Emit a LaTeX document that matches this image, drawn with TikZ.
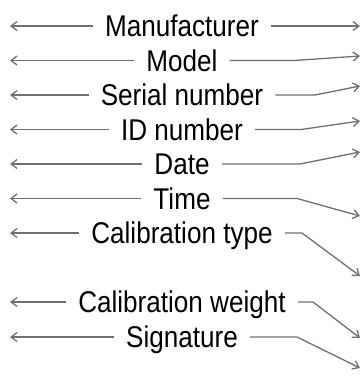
\documentclass[tikz,border=0pt]{standalone}
\usepackage{fontspec}
\newfontfamily\labelfont[FakeStretch=0.87]{Liberation Sans}
\usetikzlibrary{arrows.meta}
\definecolor{connGray}{RGB}{112,112,112}
\tikzset{
  lbl/.style={font=\labelfont\fontsize{30}{30}\selectfont, text height=21.5pt,
              text depth=0pt, inner ysep=0pt, inner xsep=12pt},
  conn/.style={draw=connGray, line width=1.3pt,
               -{Straight Barb[length=6pt,width=9pt]}},
}

\begin{document}
\begin{tikzpicture}[x=1pt,y=-1pt]
  \useasboundingbox (0,0) rectangle (362,376);
  % labels
  \node[lbl] (mfr) at (182,26) {Manufacturer};
  \node[lbl] (model) at (182,60.5) {Model};
  \node[lbl] (serial) at (182,95) {Serial number};
  \node[lbl] (idno) at (182,129.5) {ID number};
  \node[lbl] (date) at (182,164) {Date};
  \node[lbl] (time) at (182,198.5) {Time};
  \node[lbl] (caltype) at (182,233) {Calibration type};
  \node[lbl] (calweight) at (182,302) {Calibration weight};
  \node[lbl] (sig) at (182,337) {Signature};
  % left arrows
  \coordinate (lend) at (10,0);
  \foreach \n in {mfr,model,serial,idno,date,time,caltype,calweight,sig}
    \draw[conn] (\n.west) -- (\n.west -| lend);
  % right arrows (bend, then tip)
  \coordinate (r1) at (360,26);
  \coordinate (b2) at (294,60.5);   \coordinate (r2) at (360,56);
  \coordinate (b3) at (315,95);     \coordinate (r3) at (360,86);
  \coordinate (b4) at (301,129.5);  \coordinate (r4) at (360,121);
  \coordinate (b5) at (300,164);    \coordinate (r5) at (360,152);
  \coordinate (b6) at (297,198.5);  \coordinate (r6) at (360,216);
  \coordinate (b7) at (302,233);    \coordinate (r7) at (360,276);
  \coordinate (b8) at (313,302);    \coordinate (r8) at (360,338);
  \coordinate (b9) at (297,337);    \coordinate (r9) at (360,368);
  \draw[conn] (mfr.east) -- (r1);
  \draw[conn] (model.east) -- (b2) -- (r2);
  \draw[conn] (serial.east) -- (b3) -- (r3);
  \draw[conn] (idno.east) -- (b4) -- (r4);
  \draw[conn] (date.east) -- (b5) -- (r5);
  \draw[conn] (time.east) -- (b6) -- (r6);
  \draw[conn] (caltype.east) -- (b7) -- (r7);
  \draw[conn] (calweight.east) -- (b8) -- (r8);
  \draw[conn] (sig.east) -- (b9) -- (r9);
\end{tikzpicture}
\end{document}
